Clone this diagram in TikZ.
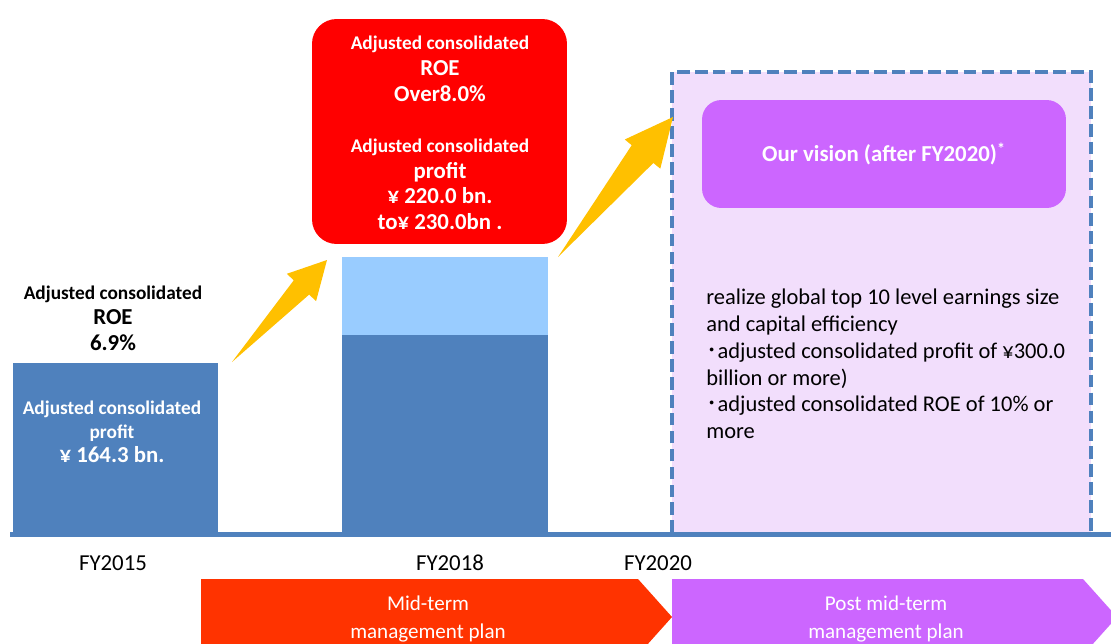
\documentclass[tikz,border=0pt]{standalone}
\usepackage{fontspec}
\setmainfont{Carlito}
\newfontfamily\cjk{Noto Sans CJK JP}
\usetikzlibrary{calc}

\definecolor{barblue}{RGB}{79,129,189}
\definecolor{barlight}{RGB}{153,204,255}
\definecolor{boxred}{RGB}{255,0,0}
\definecolor{arrowyellow}{RGB}{255,192,0}
\definecolor{visionpurple}{RGB}{204,102,255}
\definecolor{planred}{RGB}{255,51,0}
\definecolor{visionbg}{RGB}{242,222,252}

\newcommand\smalltxt[1]{{\fontsize{11}{14.6}\selectfont #1}}

\tikzset{
  boldlabel/.style={font=\fontsize{13}{14.6}\selectfont\bfseries,align=center,inner sep=0pt},
  plainlabel/.style={font=\fontsize{12.8}{15.2}\selectfont,inner sep=0pt},
  planlabel/.style={font=\fontsize{12}{15.9}\selectfont,text=white,align=center,inner sep=0pt},
  yarrow/.style={fill=arrowyellow,draw=none},
}

\begin{document}
\begin{tikzpicture}[x=0.02cm,y=-0.02cm]
  \clip (0,0) rectangle (1111,643);
  \fill[white] (0,0) rectangle (1111,643);

  % Vision area after FY2020.
  \fill[visionbg] (672,72) rectangle (1091,533);
  \draw[barblue,line width=2.6pt,dash pattern=on 7.2pt off 3pt] (672,533) -- (672,72) -- (1091,72) -- (1091,533);
  \node[fill=visionpurple,rounded corners=11pt,minimum width=7.28cm,minimum height=2.16cm,
    boldlabel,text=white] (vision) at (884,154) {Our vision (after FY2020)\textsuperscript{*}};
  \node[plainlabel,anchor=north west,align=left] (visiontext) at (706,289)
    {realize global top 10 level earnings size\\
     and capital efficiency\\
     {\cjk ･}adjusted consolidated profit of ¥300.0\\
     billion or more)\\
     {\cjk ･}adjusted consolidated ROE of 10\% or\\
     more};

  % FY2015 result.
  \fill[barblue] (13,363) rectangle (218,533);
  \node[boldlabel] (roe15) at (113,318) {\smalltxt{Adjusted consolidated}\\ROE\\6.9\%};
  \node[boldlabel,text=white,font=\fontsize{13}{13.6}\selectfont\bfseries] (profit15) at (112,432)
    {\smalltxt{Adjusted consolidated}\\\smalltxt{profit}\\¥ 164.3 bn.};

  % FY2018 target.
  \fill[barblue] (342,335) rectangle (548,533);
  \fill[barlight] (342,257) rectangle (548,335);
  \node[fill=boxred,rounded corners=14pt,minimum width=5.1cm,minimum height=4.5cm] (target18) at (439.5,131.5) {};
  \node[boldlabel,text=white] (target18text) at (440,133)
    {\smalltxt{Adjusted consolidated}\\ROE\\Over8.0\%\\[14.6pt]
     \smalltxt{Adjusted consolidated}\\profit\\¥ 220.0 bn.\\to¥ 230.0bn .};

  % Growth arrows.
  \coordinate (arrAtail) at (232,362);
  \coordinate (arrAtip) at (327,260);
  \coordinate (arrAbase) at ($(arrAtip)!0.75cm!(arrAtail)$);
  \fill[yarrow] (arrAtail) -- ($(arrAbase)!0.21cm!90:(arrAtip)$) -- ($(arrAbase)!0.40cm!90:(arrAtip)$)
    -- (arrAtip) -- ($(arrAbase)!0.40cm!-90:(arrAtip)$) -- ($(arrAbase)!0.21cm!-90:(arrAtip)$) -- cycle;
  \coordinate (arrBtail) at (558,257);
  \coordinate (arrBtip) at (673,117);
  \coordinate (arrBbase) at ($(arrBtip)!0.96cm!(arrBtail)$);
  \fill[yarrow] (arrBtail) -- ($(arrBbase)!0.28cm!90:(arrBtip)$) -- ($(arrBbase)!0.46cm!90:(arrBtip)$)
    -- (arrBtip) -- ($(arrBbase)!0.46cm!-90:(arrBtip)$) -- ($(arrBbase)!0.28cm!-90:(arrBtip)$) -- cycle;

  % Time axis.
  \draw[barblue,line width=2.7pt] (10,534.5) -- (1111,534.5);
  \node[plainlabel,font=\fontsize{13}{15}\selectfont] (fy15) at (113,563) {FY2015};
  \node[plainlabel,font=\fontsize{13}{15}\selectfont] (fy18) at (450,563) {FY2018};
  \node[plainlabel,font=\fontsize{13}{15}\selectfont] (fy20) at (658,563) {FY2020};

  % Plan chevrons.
  \fill[planred] (201,579) -- (638,579) -- (672,617) -- (638,655) -- (201,655) -- cycle;
  \fill[visionpurple] (672,579) -- (1083,579) -- (1117,617) -- (1083,655) -- (672,655) -- cycle;
  \node[planlabel] (midplan) at (428,619) {Mid-term\\management plan};
  \node[planlabel] (postplan) at (886,619) {Post mid-term\\management plan};
\end{tikzpicture}
\end{document}
